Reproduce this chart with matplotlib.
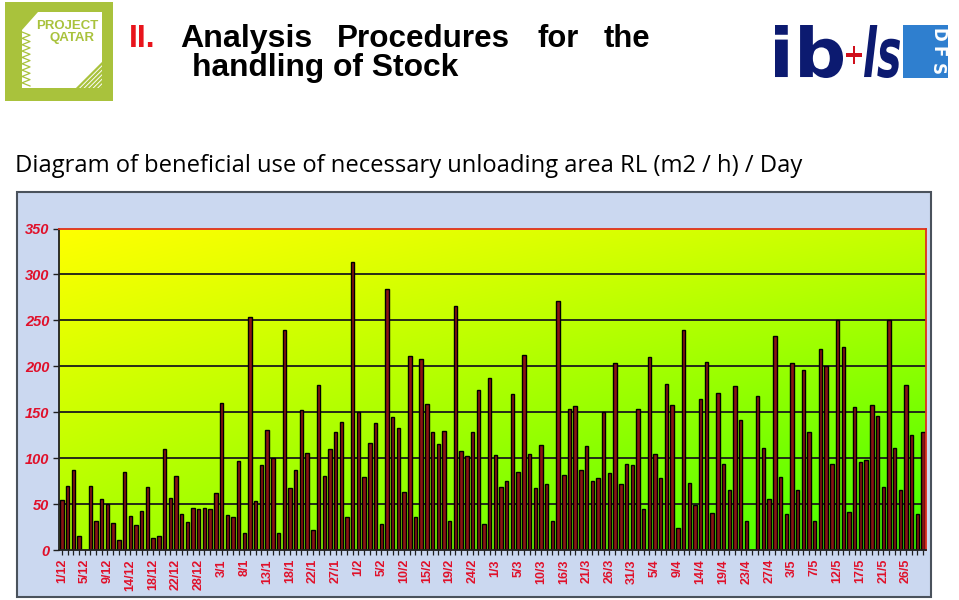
import numpy as np
import matplotlib
matplotlib.use("Agg")
import matplotlib.pyplot as plt
from matplotlib.patches import Rectangle, Polygon, PathPatch
from matplotlib.textpath import TextPath
from matplotlib.font_manager import FontProperties
from matplotlib.transforms import Affine2D

# ---------------- data ----------------
values = [54, 70, 87, 15, 0, 70, 32, 56, 50, 29, 11, 85, 37, 27, 42, 69, 13, 15, 110, 57,
          81, 39, 30, 46, 45, 46, 45, 62,
          160, 38, 36, 97, 18, 254, 53, 92, 131, 100, 18, 240, 67, 87, 152, 106, 22, 180,
          81, 110, 129, 139, 36, 314, 150, 79, 117, 138, 28, 284, 145, 133,
          63, 211, 36, 208, 159, 128, 115, 130, 32, 266, 108, 102, 129, 174, 28, 187, 103,
          69, 75, 170, 85, 212, 104, 67, 114, 72, 32, 271, 82, 153, 157, 87,
          113, 75, 78, 150, 84, 204, 72, 94, 93, 153, 45, 210, 105, 78, 181, 158, 24, 239,
          73, 49, 164, 205, 40, 171, 94, 65, 178, 142, 32, 0,
          168, 111, 56, 233, 80, 39, 204, 65, 196, 128, 32, 219, 200, 94, 250, 221, 41, 156,
          96, 98, 158, 146, 69, 250, 111, 65, 180, 125, 39, 129]
tick_labels = ['1/12', '5/12', '9/12', '14/12', '18/12', '22/12', '28/12', '3/1', '8/1',
               '13/1', '18/1', '22/1', '27/1', '1/2', '5/2', '10/2', '15/2', '19/2', '24/2',
               '1/3', '5/3', '10/3', '16/3', '21/3', '26/3', '31/3', '5/4', '9/4', '14/4',
               '19/4', '23/4', '27/4', '3/5', '7/5', '12/5', '17/5', '21/5', '26/5']
label_step = 4
y_ticks = [0, 50, 100, 150, 200, 250, 300, 350]

title_red = "II."
title_words_1 = ["Analysis", "Procedures", "for", "the"]
title_line_2 = "handling of Stock"
subtitle = "Diagram of beneficial use of necessary unloading area RL (m2 / h) / Day"

# ---------------- figure ----------------
W, H = 959, 600
fig = plt.figure(figsize=(W / 100, H / 100), dpi=100)
fig.patch.set_facecolor("white")

def fx(px):
    return px / W

def fy(py):
    return 1 - py / H

renderer = fig.canvas.get_renderer()

def fit_text(x, y, s, target_w, size0=20, **kw):
    t = fig.text(fx(x), fy(y), s, fontsize=size0, **kw)
    bb = t.get_window_extent(renderer=renderer)
    t.set_fontsize(size0 * target_w / bb.width)
    return t

def text_in_box(s, x0, y0, x1, y1, color, prop):
    """Draw string s stretched into pixel box (x0,y0)-(x1,y1), top-left origin."""
    p = TextPath((0, 0), s, size=1, prop=prop)
    ext = p.get_extents()
    sx = (x1 - x0) / ext.width / W
    sy = (y1 - y0) / ext.height / H
    tr = (Affine2D().translate(-ext.x0, -ext.y0).scale(sx, sy)
          .translate(fx(x0), fy(y1)) + fig.transFigure)
    fig.patches.append(PathPatch(p, transform=tr, facecolor=color, edgecolor="none"))

# background axes for the chart box
bg = fig.add_axes([0, 0, 1, 1], zorder=-5)
bg.set_xlim(0, W)
bg.set_ylim(H, 0)
bg.axis("off")
bg.add_patch(Rectangle((17, 192), 914, 405, facecolor="#cbd8f0", edgecolor="#4a525c",
                       linewidth=1.5))

# ---------------- header ----------------
green = "#a9c23c"
bg.add_patch(Rectangle((5, 2), 108, 99, facecolor=green, edgecolor="none"))
paper = [(38, 12), (102, 12), (102, 88), (22, 88), (22, 30)]
bg.add_patch(Polygon(paper, closed=True, facecolor="white", edgecolor="none"))
zz_x = [22, 30] * 9
zz_y = np.linspace(32, 86, 18)
bg.plot(zz_x, zz_y, color=green, lw=0.9)
for k in range(6):
    off = 10 + k * 4.5
    bg.plot([102 - off + 8, 102], [88, 88 - off + 8], color=green, lw=1.6)
fig.text(fx(98), fy(26), "PROJECT", fontsize=9.5, color=green, fontweight="bold",
         ha="right", va="center", family="Liberation Sans")
fig.text(fx(95), fy(38), "QATAR", fontsize=9.5, color=green, fontweight="bold",
         ha="right", va="center", family="Liberation Sans")

# Title
tkw = dict(family="Liberation Sans", fontweight="bold", va="baseline")
fig.text(fx(129), fy(47), title_red, color="#e8141c", fontsize=23, **tkw)
word_x = [180, 337, 537, 604]
word_w = [132, 173, 41, 47]
for wx, ww, wd in zip(word_x, word_w, title_words_1):
    fit_text(wx, 47, wd, ww, size0=23, color="black", **tkw)
fit_text(192, 76, title_line_2, 266, size0=23, color="black", **tkw)

# ib+ls logo
navy = "#0c1a70"
bold = FontProperties(family="DejaVu Sans", weight="bold")
bolditalic = FontProperties(family="DejaVu Sans", weight="bold", style="italic")
text_in_box("ib", 775, 25, 843, 78, navy, bold)
text_in_box("+", 846, 46, 862, 64, "#d0101c", bolditalic)
text_in_box("ls", 864, 25, 900, 78, navy, bolditalic)
bg.add_patch(Rectangle((903, 25), 45, 53, facecolor="#2f7fcf", edgecolor="none"))
for i, ch in enumerate("DFS"):
    fig.text(fx(937), fy(35 + i * 17), ch, fontsize=12, color="white", fontweight="bold",
             family="DejaVu Sans", ha="center", va="center", rotation=-90)

# Subtitle
fit_text(15, 172, subtitle, 786, size0=20, color="black", family="Open Sans",
         va="baseline")

# ---------------- chart ----------------
ax = fig.add_axes([fx(59), fy(550), fx(926) - fx(59), fy(228.5) - fy(550)], zorder=5)
n = len(values)
x = np.arange(n)
ax.set_xlim(-0.5, n - 0.5)
ax.set_ylim(0, 350)

gx = np.linspace(0, 1, 200)
gy = np.linspace(0, 1, 200)
GX, GY = np.meshgrid(gx, gy)  # GY=0 top
t = 0.29 * GX + 0.44 * GY + 0.27 * GX * GY
img = np.zeros((200, 200, 3))
img[..., 0] = (255 - 195 * t) / 255
img[..., 1] = 1.0
img[..., 2] = 0
ax.imshow(img, extent=[-0.5, n - 0.5, 0, 350], aspect="auto", origin="upper", zorder=0)

for yv in y_ticks[1:-1]:
    ax.axhline(yv, color="#1a1a1a", lw=1.3, zorder=0.8)

ax.bar(x, values, width=0.6, color="#8a1414", edgecolor="black", linewidth=1.0, zorder=2)

for side in ["top", "right"]:
    ax.spines[side].set_color("#e0301c")
    ax.spines[side].set_linewidth(1.3)
for side in ["left", "bottom"]:
    ax.spines[side].set_color("#202020")
    ax.spines[side].set_linewidth(1.3)

red = "#e0102a"
ax.set_yticks(y_ticks)
ax.set_yticklabels([str(v) for v in y_ticks], color=red, fontweight="bold",
                   style="italic", fontsize=10.5, family="Liberation Sans")
ax.tick_params(axis="y", length=4, width=1, color="#202020", pad=3)

ax.set_xticks(x[::label_step])
ax.set_xticklabels(tick_labels, rotation=90, color=red, fontweight="bold", fontsize=9,
                   family="Liberation Sans")
ax.set_xticks(x, minor=True)
ax.tick_params(axis="x", which="both", length=3.5, width=0.9, color="#202020", pad=3)

fig.savefig("out.png", dpi=100)
